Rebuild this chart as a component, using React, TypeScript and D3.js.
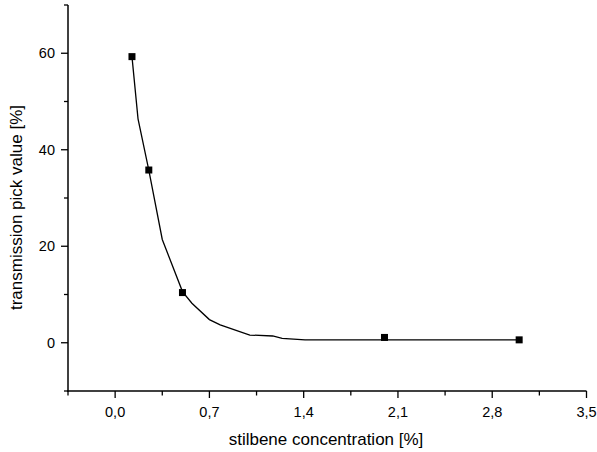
import * as d3 from "d3";
import React from "react";

// measured points
const concentration = [0.125, 0.25, 0.5, 2.0, 3.0];
const transmission = [59.3, 35.8, 10.4, 1.1, 0.6];

// fitted curve as drawn in the reference
const fitX = [0.125, 0.17, 0.25, 0.35, 0.5, 0.57, 0.7, 0.78, 1.0, 1.17, 1.24, 1.41, 3.0];
const fitY = [59.3, 46.4, 35.8, 21.4, 10.6, 8.2, 4.8, 3.7, 1.6, 1.4, 0.9, 0.6, 0.6];

const xMajor = [0, 0.7, 1.4, 2.1, 2.8, 3.5];
const xMinor = [-0.35, 0.35, 1.05, 1.75, 2.45, 3.15];
const yMajor = [0, 20, 40, 60];
const yMinor = [-10, 10, 30, 50, 70];

const W = 597;
const H = 452;
const font = "'Liberation Sans', Arial, sans-serif";

export default function App() {
  const x = d3.scaleLinear().domain([-0.35, 3.5]).range([68, 586.5]);
  const y = d3.scaleLinear().domain([-10, 70]).range([391, 5]);

  const fit = d3.range(fitX.length).map((i) => [fitX[i], fitY[i]] as [number, number]);
  const line = d3
    .line<[number, number]>()
    .x((d) => x(d[0]))
    .y((d) => y(d[1]));

  const fmt = (v: number) => v.toFixed(1).replace(".", ",");

  return (
    <svg
      width={W}
      height={H}
      viewBox={`0 0 ${W} ${H}`}
      style={{ position: "absolute", left: 0, top: 0, background: "#fff" }}
      fontFamily={font}
    >
      <rect width={W} height={H} fill="#fff" />

      {/* y axis */}
      <line x1={68} x2={68} y1={y(70)} y2={y(-10) + 0.75} stroke="#000" strokeWidth={1.5} />
      {yMajor.map((v) => (
        <g key={"ym" + v}>
          <line x1={61} x2={68} y1={y(v)} y2={y(v)} stroke="#000" strokeWidth={1.3} />
          <text x={55} y={y(v) + 5} textAnchor="end" fontSize={14.5} fill="#000">
            {v}
          </text>
        </g>
      ))}
      {yMinor.map((v) => (
        <line key={"yn" + v} x1={64} x2={68} y1={y(v)} y2={y(v)} stroke="#000" strokeWidth={1.3} />
      ))}

      {/* x axis */}
      <line x1={67.25} x2={x(3.5)} y1={391} y2={391} stroke="#000" strokeWidth={1.5} />
      {xMajor.map((v) => (
        <g key={"xm" + v}>
          <line x1={x(v)} x2={x(v)} y1={391} y2={398} stroke="#000" strokeWidth={1.3} />
          <text x={x(v)} y={416.5} textAnchor="middle" fontSize={14.5} fill="#000">
            {fmt(v)}
          </text>
        </g>
      ))}
      {xMinor.map((v) => (
        <line key={"xn" + v} x1={x(v)} x2={x(v)} y1={391} y2={395.5} stroke="#000" strokeWidth={1.3} />
      ))}

      {/* titles */}
      <text x={326} y={445} textAnchor="middle" fontSize={17} fill="#000">
        stilbene concentration [%]
      </text>
      <text
        transform={`translate(22,207.5) rotate(-90)`}
        textAnchor="middle"
        fontSize={17}
        fill="#000"
      >
        transmission pick value [%]
      </text>

      {/* curve */}
      <path d={line(fit) ?? ""} fill="none" stroke="#000" strokeWidth={1.3} />

      {/* markers */}
      {concentration.map((c, i) => (
        <rect
          key={i}
          x={x(c) - 3.5}
          y={y(transmission[i]) - 3.5}
          width={7}
          height={7}
          fill="#000"
        />
      ))}
    </svg>
  );
}
